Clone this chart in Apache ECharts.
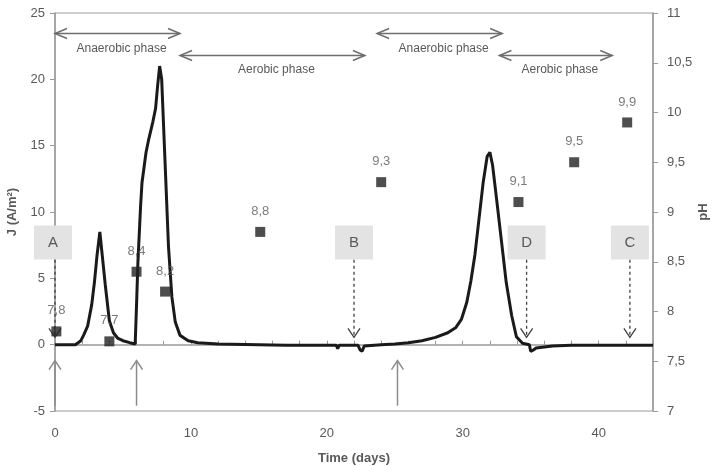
<!DOCTYPE html>
<html><head><meta charset="utf-8">
<script src="https://cdn.jsdelivr.net/npm/echarts@6/dist/echarts.min.js"></script>
<style>html,body{margin:0;padding:0;background:#fff}#c{width:713px;height:466px}</style>
</head><body><div id="c"></div>
<script>
// Current density J (A/m²) vs time (days)
const jDays = [0,1.5,1.9,2.1,2.4,2.7,2.9,3.1,3.3,3.45,3.7,4.0,4.3,4.6,5.0,5.5,5.9,6.0,6.1,6.3,6.4,6.7,6.9,7.2,7.4,7.55,7.7,7.85,8.1,8.35,8.6,8.85,9.2,9.8,10.5,12,15,17,17.1,18,20.7,20.8,20.9,22.3,22.45,22.6,22.75,24,25,26,27,28,28.9,29.5,29.9,30.3,30.6,30.9,31.2,31.5,31.8,32.0,32.2,32.5,32.85,33.2,33.6,33.95,34.4,34.9,35.0,35.2,35.4,36.6,38,44];
const jValues = [0,0,0.3,0.7,1.4,3.0,4.7,6.8,8.5,7.0,4.5,1.8,0.9,0.5,0.3,0.15,0.05,3.0,6.2,10.5,12.2,14.5,15.5,16.8,17.8,19.5,21.0,20.0,13.7,7.4,3.6,1.7,0.7,0.3,0.15,0.05,0,-0.05,-0.2,-0.05,-0.05,-0.3,-0.05,-0.05,-0.4,-0.5,-0.1,0,0.05,0.15,0.3,0.55,0.9,1.3,1.9,3.2,4.8,6.8,9.5,12.2,14.2,14.5,13.5,10.9,7.8,4.7,2.2,0.6,0.1,0,-0.5,-0.4,-0.25,-0.1,-0.05,-0.05];
// pH measurements
const phDays = [0.1,4.0,6.0,8.1,15.1,24.0,34.1,38.2,42.1];
const phValues = [7.8,7.7,8.4,8.2,8.8,9.3,9.1,9.5,9.9];
// Phases
const phaseStart = [0,9.2,23.7,32.7];
const phaseEnd = [9.2,22.8,32.9,41];
const phaseLabel = ['Anaerobic phase','Aerobic phase','Anaerobic phase','Aerobic phase'];
// Event (upward) arrows
const eventDays = [0,6,25.2];
// Sampling markers
const markerLetters = ['A','B','D','C'];
const markerDays = [0,22,34.7,42.3];

const FONT = '"Liberation Sans", Arial, sans-serif';
const TXT = '#595959';
const AX = '#9a9a9a';

function chevronPath(tip, dirx, diry, len, half){
  const bx = tip[0]-dirx*len, by = tip[1]-diry*len;
  const px = -diry*half, py = dirx*half;
  return [[bx+px,by+py],tip,[bx-px,by-py]];
}

const chart = echarts.init(document.getElementById('c'), null, {renderer:'canvas'});
chart.setOption({
  animation:false,
  backgroundColor:'#fff',
  grid:{left:55,right:60,top:13,bottom:55,show:true,borderColor:AX,borderWidth:1,outerBoundsMode:'none',containLabel:false},
  textStyle:{fontFamily:FONT},
  xAxis:{type:'value',min:0,max:44,interval:2,
    name:'Time (days)',nameLocation:'middle',nameGap:41,nameMoveOverlap:false,
    nameTextStyle:{fontWeight:'bold',fontSize:13,color:TXT,fontFamily:FONT},
    axisLine:{lineStyle:{color:AX,width:1.5}},
    axisTick:{inside:true,length:4,lineStyle:{color:AX}},
    axisLabel:{margin:16,fontSize:13,color:TXT,fontFamily:FONT,formatter:v=>(v%10===0?String(v):'')},
    splitLine:{show:false}},
  yAxis:[
    {type:'value',min:-5,max:25,interval:5,
      name:'J (A/m²)',nameLocation:'middle',nameGap:36,nameRotate:90,nameMoveOverlap:false,
      nameTextStyle:{fontWeight:'bold',fontSize:13,color:TXT,fontFamily:FONT},
      axisLine:{show:true,lineStyle:{color:AX,width:1.5}},
      axisTick:{show:true,length:5,lineStyle:{color:AX}},
      axisLabel:{margin:10,fontSize:13,color:TXT,fontFamily:FONT},
      splitLine:{show:false}},
    {type:'value',min:7,max:11,interval:0.5,position:'right',
      name:'pH',nameLocation:'middle',nameGap:44,nameRotate:90,nameMoveOverlap:false,
      nameTextStyle:{fontWeight:'bold',fontSize:13,color:TXT,fontFamily:FONT},
      axisLine:{show:true,lineStyle:{color:AX,width:1.5}},
      axisTick:{show:true,length:5,lineStyle:{color:AX}},
      axisLabel:{margin:14,fontSize:13,color:TXT,fontFamily:FONT,formatter:v=>String(v).replace('.',',')},
      splitLine:{show:false}}
  ],
  series:[
    {type:'custom',name:'events',coordinateSystem:'cartesian2d',clip:false,silent:true,z:1,
      data:eventDays.map(d=>[d]),
      renderItem:(params,api)=>{
        const d = api.value(0);
        const top = api.coord([d,-1.2]);
        const bot = api.coord([d,-4.6]);
        return {type:'group',children:[
          {type:'line',shape:{x1:top[0],y1:top[1],x2:bot[0],y2:bot[1]},style:{stroke:'#8c8c8c',lineWidth:1.5}},
          {type:'polyline',shape:{points:chevronPath(top,0,-1,9,6)},style:{stroke:'#8c8c8c',lineWidth:1.5,fill:null}}
        ]};
      }},
    {type:'line',name:'J',data:jDays.map((d,i)=>[d,jValues[i]]),yAxisIndex:0,
      showSymbol:false,symbol:'none',lineStyle:{color:'#1a1a1a',width:3},z:3},
    {type:'custom',name:'markers',coordinateSystem:'cartesian2d',clip:false,silent:true,z:4,
      data:markerDays.map((d,i)=>[d,i]),
      renderItem:(params,api)=>{
        const d = api.value(0), i = api.value(1);
        const c = api.coord([d,7.7]);
        const a0 = api.coord([d,6.4]);
        const a1 = api.coord([d,0.55]);
        const bx = c[0]-19 - (d===0?2:0);
        return {type:'group',children:[
          {type:'rect',shape:{x:bx,y:c[1]-17,width:38,height:34},style:{fill:'#e3e3e3'}},
          {type:'text',style:{text:markerLetters[i],x:bx+19,y:c[1],align:'center',verticalAlign:'middle',font:'15px '+FONT,fill:'#595959'}},
          {type:'line',shape:{x1:a0[0],y1:a0[1],x2:a1[0],y2:a1[1]},style:{stroke:'#404040',lineWidth:1.3,lineDash:[3,3]}},
          {type:'polyline',shape:{points:chevronPath(a1,0,1,9,6)},style:{stroke:'#404040',lineWidth:1.3,fill:null}}
        ]};
      }},
    {type:'custom',name:'phases',coordinateSystem:'cartesian2d',clip:false,silent:true,z:4,
      data:phaseStart.map((s,i)=>[s,phaseEnd[i],i]),
      renderItem:(params,api)=>{
        const s = api.value(0), e = api.value(1), i = api.value(2);
        const anaer = phaseLabel[i].indexOf('Anaerobic')===0;
        const yl = anaer ? 23.45 : 21.8;
        const yt = anaer ? 22.3 : 20.7;
        const p1 = api.coord([s,yl]), p2 = api.coord([e,yl]);
        const t = api.coord([(s+e)/2,yt]);
        return {type:'group',children:[
          {type:'line',shape:{x1:p1[0],y1:p1[1],x2:p2[0],y2:p2[1]},style:{stroke:'#6e6e6e',lineWidth:1.5}},
          {type:'polyline',shape:{points:chevronPath(p1,-1,0,12,5)},style:{stroke:'#6e6e6e',lineWidth:1.5,fill:null}},
          {type:'polyline',shape:{points:chevronPath(p2,1,0,12,5)},style:{stroke:'#6e6e6e',lineWidth:1.5,fill:null}},
          {type:'text',style:{text:phaseLabel[i],x:t[0]+4,y:t[1],align:'center',verticalAlign:'middle',font:'12px '+FONT,fill:'#595959'}}
        ]};
      }},
    {type:'scatter',name:'pH',yAxisIndex:1,data:phDays.map((d,i)=>[d,phValues[i]]),
      symbol:'rect',symbolSize:10,itemStyle:{color:'#222'},z:5,
      label:{show:true,position:'top',distance:9,fontSize:13,color:TXT,fontFamily:FONT,
        formatter:p=>String(p.value[1]).replace('.',',')}}
  ]
});
</script></body></html>
